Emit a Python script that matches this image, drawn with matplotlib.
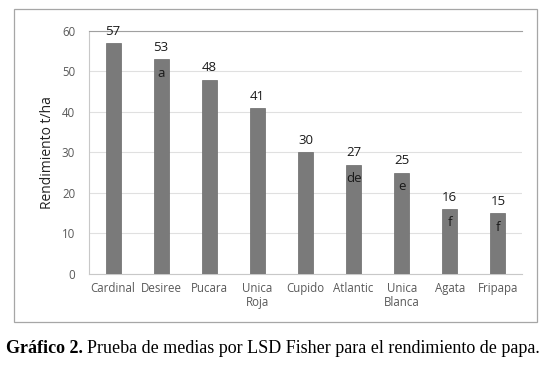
import matplotlib.pyplot as plt
from matplotlib.patches import Rectangle

variedades = ["Cardinal", "Desiree", "Pucara", "Unica\nRoja", "Cupido",
              "Atlantic", "Unica\nBlanca", "Agata", "Fripapa"]
rendimiento = [57, 53, 48, 41, 30, 27, 25, 16, 15]
letras = ["", "a", "", "", "", "de", "e", "f", "f"]

plt.rcParams['font.family'] = ['Open Sans', 'DejaVu Sans']

fig = plt.figure(figsize=(5.45, 3.66), dpi=100)
# marco exterior del grafico
fig.patches.append(Rectangle((0.0257, 0.120), 0.9596, 0.8554, transform=fig.transFigure,
                             fill=False, edgecolor="#a6a6a6", linewidth=0.9))

ax = fig.add_axes([0.1633, 0.2514, 0.7945, 0.664])
x = range(len(variedades))
ax.bar(x, rendimiento, width=0.31, color="#7a7a7a", edgecolor="#6a6a6a", linewidth=0.5, zorder=3)

for i, (v, l) in enumerate(zip(rendimiento, letras)):
    ax.text(i, v + 1.3, str(v), ha="center", va="bottom", fontsize=9.5, color="#1a1a1a")
    if l:
        ax.text(i, v - 1.8, l, ha="center", va="top", fontsize=9.5, color="#1a1a1a", zorder=4)

ax.set_xlim(-0.5, 8.5)
ax.set_ylim(0, 60)
ax.set_yticks(range(0, 61, 10))
ax.set_xticks(list(x))
ax.set_xticklabels(variedades, fontsize=8.3, color="#595959", linespacing=1.05)
ax.tick_params(axis="y", labelsize=8.3, colors="#595959", length=0, pad=10)
ax.tick_params(axis="x", length=0, pad=6)
ax.grid(axis="y", color="#e0e0e0", linewidth=0.8, zorder=0)
ax.set_ylabel("Rendimiento t/ha", fontsize=10, color="#222222", labelpad=5)

for s in ["left", "bottom"]:
    ax.spines[s].set_color("#c8c8c8")
ax.spines["top"].set_color("#a0a0a0")
ax.spines["right"].set_visible(False)

t1 = fig.text(0.011, 0.035, "Gráfico 2.", fontsize=13, fontweight="bold",
              family="Liberation Serif", va="baseline")
fig.canvas.draw()
bb = t1.get_window_extent().transformed(fig.transFigure.inverted())
fig.text(bb.x1 + 0.008, 0.035, "Prueba de medias por LSD Fisher para el rendimiento de papa.",
         fontsize=13, family="Liberation Serif", va="baseline")

fig.savefig("out.png", dpi=100)
